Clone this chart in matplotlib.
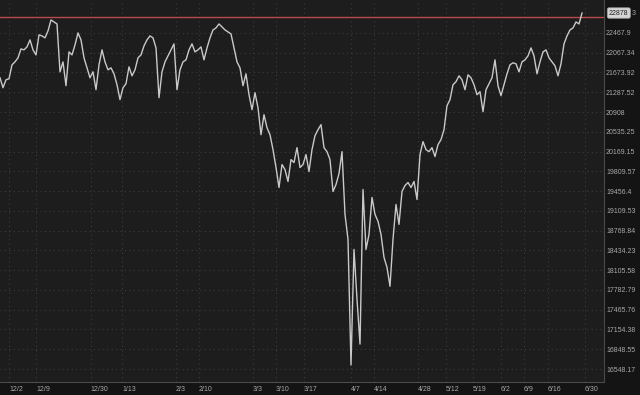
import matplotlib
matplotlib.use("Agg")
import matplotlib.pyplot as plt

# closing prices, one sample per bar (Dec to end of June)
prices = [
    21569, 21375, 21530, 21550, 21825, 21884, 21964, 22144, 22124, 22184,
    22326, 22124, 22023, 22428, 22407, 22367, 22509, 22735, 22694, 22652,
    21686, 21884, 21414, 22083, 22023, 22225, 22468, 22326, 21964, 21765,
    21569, 21686, 21336, 21825, 22124, 21884, 21726, 21765, 21647, 21433,
    21144, 21375, 21453, 21785, 21608, 21726, 21964, 22023, 22205, 22326,
    22407, 22367, 22164, 21182, 21686, 21884, 22003, 22124, 22245, 21336,
    21726, 21884, 21924, 22124, 22245, 22083, 22124, 22184, 21924, 22164,
    22367, 22529, 22570, 22652, 22590, 22529, 22488, 22448, 22164, 21884,
    21765, 21414, 21647, 21240, 20952, 21278, 20990, 20481, 20857, 20612,
    20481, 20204, 19878, 19520, 19932, 19841, 19627, 20022, 19968, 20241,
    19878, 19932, 20113, 19805, 20204, 20463, 20574, 20669, 20241, 20167,
    20022, 19449, 19573, 19769, 20167, 19048, 18620, 16609, 18451, 17634,
    16928, 19484, 18451, 18705, 19344, 19048, 18928, 18705, 18318, 18152,
    17842, 18620, 19221, 18876, 19449, 19555, 19609, 19520, 19627, 19309,
    20113, 20352, 20204, 20167, 20241, 20077, 20296, 20389, 20574, 21029,
    21144, 21433, 21492, 21608, 21530, 21336, 21627, 21569, 21433, 21240,
    21298, 20914, 21336, 21453, 21569, 21924, 21414, 21221, 21433, 21647,
    21825, 21865, 21845, 21686, 21884, 21924, 22003, 22164, 22003, 21647,
    21884, 22083, 22124, 21964, 21884, 21805, 21608, 21845, 22245, 22407,
    22529, 22570, 22694, 22652, 22878,
]
bars = list(range(len(prices)))

# date labels (mondays) and the bar they fall on
date_labels = ["12/2", "12/9", "12/30", "1/13", "2/3", "2/10", "3/3", "3/10", "3/17",
               "4/7", "4/14", "4/28", "5/12", "5/19", "6/2", "6/9", "6/16", "6/30"]
date_bars = [3, 12, 30.3, 40.7, 58.7, 66.3, 84.3, 92, 101.3,
             117, 124.7, 139.3, 148.7, 157.7, 167, 174.7, 182.7, 195]

price_ticks = [22467.9, 22067.34, 21673.92, 21287.52, 20908, 20535.25, 20169.15,
               19809.57, 19456.4, 19109.53, 18768.84, 18434.23, 18105.58, 17782.79,
               17465.76, 17154.38, 16848.55, 16548.17]
price_labels = ["22467.9", "22067.34", "21673.92", "21287.52", "20908", "20535.25",
                "20169.15", "19809.57", "19456.4", "19109.53", "18768.84", "18434.23",
                "18105.58", "17782.79", "17465.76", "17154.38", "16848.55", "16548.17"]
last_price = 22878.3
ref_line = 22796

plt.rcParams['font.family'] = ['Liberation Sans', 'DejaVu Sans']

fig = plt.figure(figsize=(6.4, 3.95), dpi=100, facecolor='#141414')
ax = fig.add_axes([0, 13/395, 604/640, 382/395])
ax.set_facecolor('#1d1d1d')

ax.plot(bars, prices, color='#c9c9c9', lw=1.0, zorder=3)
ax.axhline(ref_line, color='#b84a4a', lw=1.0, zorder=2)

ax.set_yscale('log')
ax.set_ylim(16354, 23151)
ax.set_xlim(0, 604/3)

ax.yaxis.tick_right()
ax.set_yticks(price_ticks)
ax.set_yticklabels(price_labels)
ax.yaxis.set_minor_locator(matplotlib.ticker.NullLocator())
ax.set_xticks(date_bars)
ax.set_xticklabels(date_labels)
for lab in ax.get_xticklabels():
    lab.set_horizontalalignment('left')
ax.tick_params(axis='both', length=0, labelsize=5.0, colors='#a8a8a8')
ax.tick_params(axis='y', pad=1.5)
ax.tick_params(axis='x', pad=3)

ax.grid(True, color='#3c3c3c', lw=0.8, linestyle=(0, (1, 3)))
ax.set_axisbelow(True)

for s in ['top', 'left']:
    ax.spines[s].set_visible(False)
for s in ['right', 'bottom']:
    ax.spines[s].set_color('#4a4a4a')
    ax.spines[s].set_linewidth(0.8)

# last price tag on the right axis, with the tail of the hidden label
ytr = ax.get_yaxis_transform()
ax.text(1.0 + 5/604, last_price, '22878', transform=ytr,
        fontsize=5.0, color='#222222', va='center', ha='left', clip_on=False, zorder=6,
        bbox=dict(boxstyle='round,pad=0.25', fc='#d4d4d4', ec='#9a9a9a', lw=0.5))
ax.text(1.0 + 28/604, last_price, '3', transform=ytr,
        fontsize=5.0, color='#a8a8a8', va='center', ha='left', clip_on=False, zorder=5)

fig.savefig('out.png', dpi=100, facecolor=fig.get_facecolor())
